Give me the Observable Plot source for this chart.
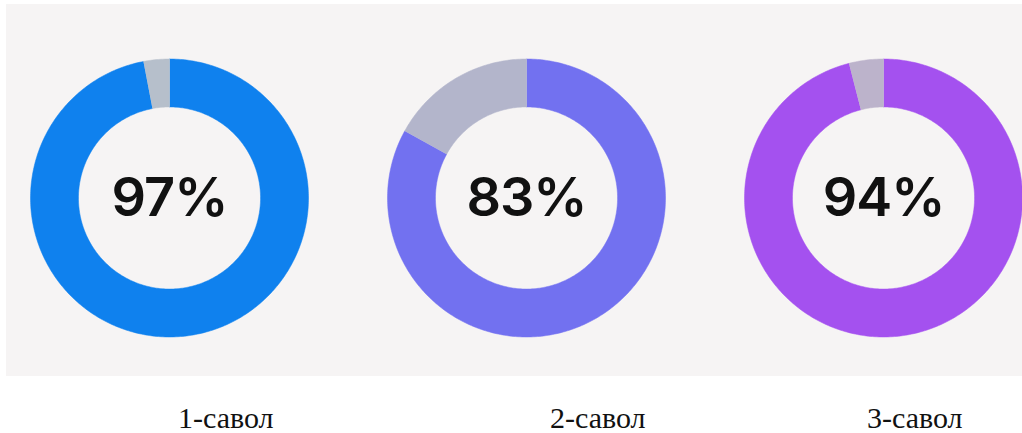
<!DOCTYPE html>
<html>
<head>
<meta charset="utf-8">
<script src="https://cdn.jsdelivr.net/npm/d3@7"></script>
<script src="https://cdn.jsdelivr.net/npm/@observablehq/plot@0.6"></script>
<style>
  html, body { margin: 0; padding: 0; background: #ffffff; }
  #wrap { position: relative; width: 1022px; height: 433px; overflow: hidden; }
  #chart { position: absolute; left: 6px; top: 4px; }
  .qlabel { position: absolute; top: 403px; font-family: "Liberation Serif", "Times New Roman", serif; font-size: 30px; color: #111; white-space: nowrap; line-height: 30px; }
</style>
</head>
<body>
<div id="wrap"><div id="chart"></div></div>
<script>
// ---- data ----
const questions = ["1-савол", "2-савол", "3-савол"];
const percents = [97, 83, 94];          // printed in the centre
const arcShares = [97, 83, 96];         // coloured share as drawn in the picture
const ringColors = ["#0f81ee", "#7271f0", "#a451ef"];
const restColors = ["#b6bfcb", "#b3b5cb", "#bcb3cb"];

// ---- layout ----
const W = 1016, H = 372;          // svg size (grey panel)
const R = 139;                    // outer radius in px
const inner = 0.655;              // inner radius as fraction of outer
const firstCx = 163, cy = 193.5;  // first donut centre in px
const spacing = 357 / R;          // centre spacing in radius units
const labelLeft = [178, 550, 867];

// build arc polygons from the shares
const segments = [];
questions.forEach((q, i) => {
  const p = arcShares[i];
  [[0, p, ringColors[i], "done"], [p, 100, restColors[i], "rest"]].forEach(([a, b, color, kind]) => {
    const key = q + "-" + kind;
    const steps = Math.max(8, Math.ceil((b - a) * 4));
    const pts = [];
    for (let s = 0; s <= steps; s++) {
      const t = (a + (b - a) * s / steps) / 100 * 2 * Math.PI;
      pts.push({key, color, x: i * spacing + Math.sin(t), y: Math.cos(t)});
    }
    for (let s = steps; s >= 0; s--) {
      const t = (a + (b - a) * s / steps) / 100 * 2 * Math.PI;
      pts.push({key, color, x: i * spacing + inner * Math.sin(t), y: inner * Math.cos(t)});
    }
    segments.push(...pts);
  });
});

const centres = questions.map((q, i) => ({q, pos: i * spacing, label: percents[i] + "%"}));

const chart = Plot.plot({
  width: W,
  height: H,
  margin: 0,
  x: {domain: [-firstCx / R, (W - firstCx) / R], axis: null},
  y: {domain: [(cy - H) / R, cy / R], axis: null},
  color: {type: "identity"},
  style: {background: "#f6f4f4"},
  marks: [
    Plot.line(segments, {x: "x", y: "y", z: "key", fill: "color", stroke: "color", strokeWidth: 0.5, curve: "linear"}),
    Plot.text(centres, {x: "pos", y: () => 0, text: "label", fontSize: 54, fontWeight: 600, fontFamily: "Inter, Lato, sans-serif", fill: "#111111", dy: 1})
  ]
});
chart.querySelectorAll("text").forEach(t => t.setAttribute("letter-spacing", "-1"));
document.getElementById("chart").appendChild(chart);

const wrap = document.getElementById("wrap");
questions.forEach((q, i) => {
  const s = document.createElement("span");
  s.className = "qlabel";
  s.style.left = labelLeft[i] + "px";
  s.textContent = q;
  wrap.appendChild(s);
});
</script>
</body>
</html>
